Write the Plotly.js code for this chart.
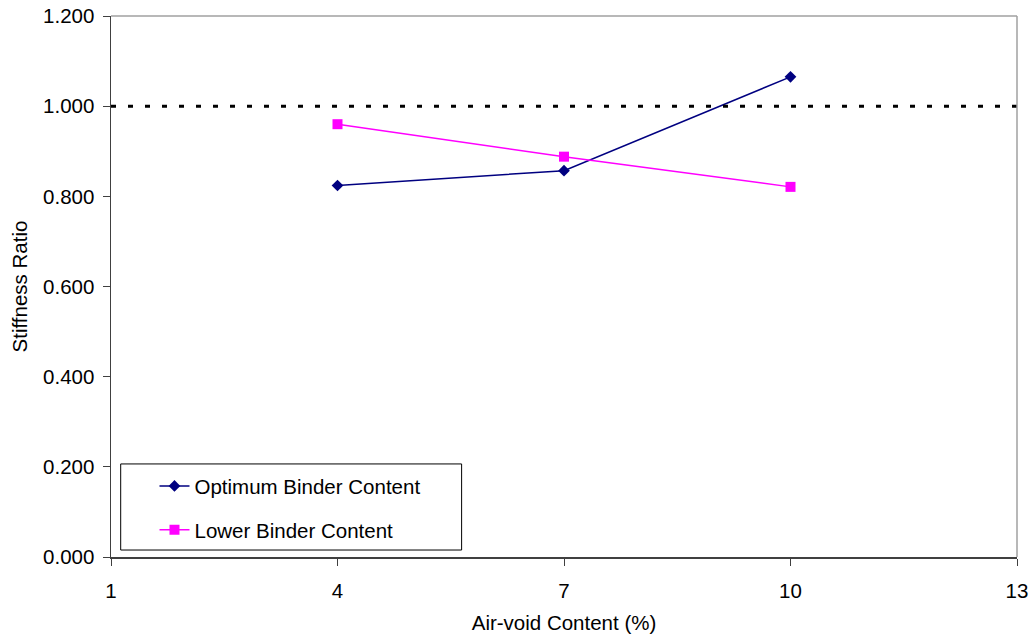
<!DOCTYPE html>
<html>
<head>
<meta charset="utf-8">
<script src="https://cdn.plot.ly/plotly-3.0.1.min.js"></script>
<style>html,body{margin:0;padding:0;background:#fff;}#chart{width:1035px;height:640px;}</style>
</head>
<body>
<div id="chart"></div>
<script>
const airVoid = [4, 7, 10];
const optimumBinder = [0.824, 0.857, 1.065];
const lowerBinder = [0.960, 0.888, 0.821];
const referenceRatio = 1.0;
const xTicks = [1, 4, 7, 10, 13];
const yTicks = [0, 0.2, 0.4, 0.6, 0.8, 1.0, 1.2];
const yTickLabels = ['0.000', '0.200', '0.400', '0.600', '0.800', '1.000', '1.200'];

const FONT = 'Liberation Sans, Arial, sans-serif';
const FS = 20.5;
const traces = [
  {
    x: airVoid, y: optimumBinder, name: 'Optimum Binder Content', type: 'scatter', mode: 'lines+markers',
    line: {color: '#000080', width: 1.5},
    marker: {symbol: 'diamond', size: 9, color: '#000080'},
    legend: 'legend'
  },
  {
    x: airVoid, y: lowerBinder, name: 'Lower Binder Content', type: 'scatter', mode: 'lines+markers',
    line: {color: '#FF00FF', width: 1.5},
    marker: {symbol: 'square', size: 10, color: '#FF00FF'},
    legend: 'legend2'
  }
];

const legendCommon = {
  bgcolor: 'rgba(0,0,0,0)', borderwidth: 0,
  font: {family: FONT, size: FS, color: '#000'},
  xanchor: 'left', yanchor: 'middle'
};

const layout = {
  width: 1035, height: 640,
  margin: {l: 111, r: 18, t: 16, b: 83},
  paper_bgcolor: '#fff', plot_bgcolor: '#fff',
  font: {family: FONT, size: FS, color: '#000'},
  showlegend: true,
  xaxis: {
    range: [1, 13], tickvals: xTicks, ticktext: xTicks.map(String),
    showgrid: false, zeroline: false,
    showline: true, linecolor: '#404040', linewidth: 1.5,
    ticks: 'outside', ticklen: 7, tickcolor: '#404040', tickwidth: 1,
    ticklabelstandoff: 8,
    tickfont: {family: FONT, size: FS, color: '#000'},
    title: {text: 'Air-void Content (%)', font: {family: FONT, size: FS, color: '#000'}, standoff: 14},
    fixedrange: true
  },
  yaxis: {
    range: [0, 1.2], tickvals: yTicks, ticktext: yTickLabels,
    showgrid: false, zeroline: false,
    showline: true, linecolor: '#404040', linewidth: 1.5,
    ticks: 'outside', ticklen: 7, tickcolor: '#404040', tickwidth: 1,
    ticklabelstandoff: 4,
    tickfont: {family: FONT, size: FS, color: '#000'},
    title: {text: 'Stiffness Ratio', font: {family: FONT, size: FS, color: '#000'}, standoff: 10},
    fixedrange: true
  },
  legend: Object.assign({}, legendCommon, {x: 0.048, y: 0.131}),
  legend2: Object.assign({}, legendCommon, {x: 0.048, y: 0.05}),
  shapes: [
    {type: 'line', xref: 'paper', yref: 'y', x0: 0, x1: 1, y0: referenceRatio, y1: referenceRatio,
     line: {color: '#000', width: 3, dash: '5px,12px'}, layer: 'above'},
    {type: 'line', xref: 'paper', yref: 'paper', x0: 0, x1: 1, y0: 1, y1: 1, line: {color: '#a0a0a0', width: 1.5}},
    {type: 'line', xref: 'paper', yref: 'paper', x0: 1, x1: 1, y0: 0, y1: 1, line: {color: '#a0a0a0', width: 1.5}},
    {type: 'rect', xref: 'paper', yref: 'paper', x0: 0.0107, x1: 0.3870, y0: 0.0129, y1: 0.172,
     line: {color: '#000', width: 1}, fillcolor: 'rgba(0,0,0,0)'}
  ]
};

Plotly.newPlot('chart', traces, layout, {displayModeBar: false, staticPlot: true});
</script>
</body>
</html>
